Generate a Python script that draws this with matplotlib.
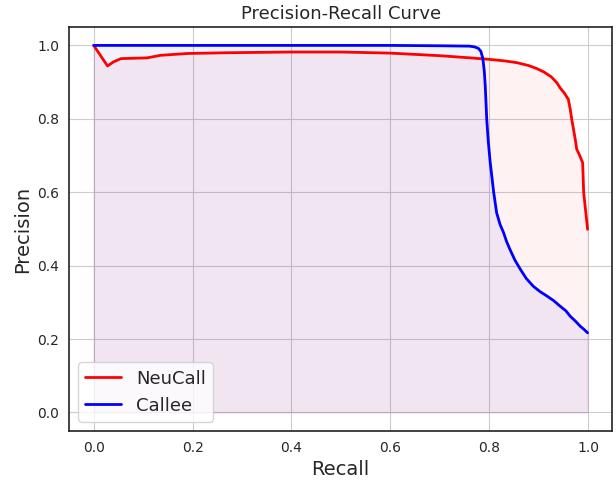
import matplotlib
matplotlib.use("Agg")
import matplotlib.pyplot as plt
import seaborn as sns

# --- Data ---
neucall_recall = [0.0, 0.028, 0.04, 0.055, 0.08, 0.108, 0.135, 0.19, 0.27, 0.4, 0.5,
                  0.6, 0.7, 0.762, 0.8, 0.83, 0.856, 0.88, 0.896, 0.91, 0.925, 0.937,
                  0.943, 0.952, 0.96, 0.964, 0.967, 0.974, 0.977, 0.983, 0.989, 0.991,
                  0.994, 0.999]
neucall_precision = [1.0, 0.944, 0.955, 0.964, 0.965, 0.966, 0.973, 0.978, 0.98, 0.982, 0.982,
                     0.979, 0.972, 0.966, 0.962, 0.958, 0.953, 0.945, 0.937, 0.928, 0.915, 0.898,
                     0.885, 0.87, 0.853, 0.825, 0.798, 0.744, 0.717, 0.7, 0.68, 0.6,
                     0.562, 0.499]

callee_recall = [0.0, 0.2, 0.4, 0.6, 0.7, 0.76, 0.77, 0.778, 0.783, 0.787, 0.79, 0.792,
                 0.795, 0.798, 0.802, 0.809, 0.815, 0.822, 0.829, 0.835, 0.842, 0.852,
                 0.863, 0.875, 0.889, 0.903, 0.917, 0.93, 0.943, 0.955, 0.964, 0.975,
                 0.984, 0.992, 0.999]
callee_precision = [1.0, 1.0, 1.0, 1.0, 0.999, 0.998, 0.996, 0.992, 0.984, 0.965, 0.93, 0.889,
                    0.798, 0.74, 0.681, 0.6, 0.544, 0.512, 0.49, 0.466, 0.444, 0.415,
                    0.39, 0.365, 0.344, 0.329, 0.317, 0.305, 0.29, 0.277, 0.262, 0.248,
                    0.235, 0.226, 0.217]

sns.set_style("whitegrid")

fig, ax = plt.subplots(figsize=(6.16, 4.83), dpi=100)

ax.plot(neucall_recall, neucall_precision, color="red", linewidth=2, label="NeuCall")
ax.fill_between(neucall_recall, neucall_precision, color="red", alpha=0.05)
ax.plot(callee_recall, callee_precision, color="blue", linewidth=2, label="Callee")
ax.fill_between(callee_recall, callee_precision, color="blue", alpha=0.05)

ax.set_title("Precision-Recall Curve", fontsize=13)
ax.set_xlabel("Recall", fontsize=14)
ax.set_ylabel("Precision", fontsize=14)
ax.tick_params(labelsize=10)
ax.grid(True, color="#cccccc")

for s in ax.spines.values():
    s.set_color("#222222")
    s.set_linewidth(1.2)

ax.legend(loc="lower left", fontsize=13)

plt.subplots_adjust(left=0.112, right=0.994, top=0.944, bottom=0.108)
plt.savefig("out.png", dpi=100)
